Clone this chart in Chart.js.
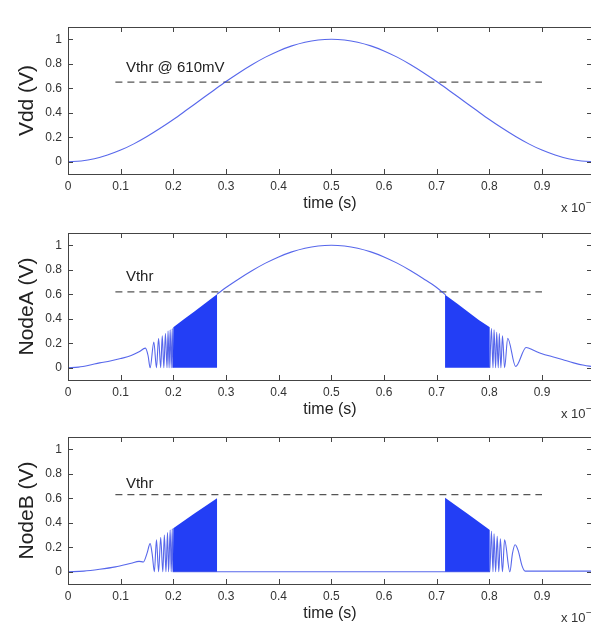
<!DOCTYPE html>
<html>
<head>
<meta charset="utf-8">
<script src="https://cdn.jsdelivr.net/npm/chart.js@4.4.1/dist/chart.umd.min.js"></script>
<style>
html,body{margin:0;padding:0;background:#fff;overflow:hidden;width:591px;height:626px;position:relative;}
canvas{position:absolute;left:0;}
</style>
</head>
<body>
<canvas id="c1" width="600" height="216" style="top:0px"></canvas>
<canvas id="c2" width="600" height="216" style="top:206px"></canvas>
<canvas id="c3" width="600" height="216" style="top:410px"></canvas>
<script>
// ---- tick labels / ranges ----
const xTicks = [0, 0.1, 0.2, 0.3, 0.4, 0.5, 0.6, 0.7, 0.8, 0.9];
const yTicks = [0, 0.2, 0.4, 0.6, 0.8, 1];
const yTitles = ['Vdd (V)', 'NodeA (V)', 'NodeB (V)'];
const thrLabels = ['Vthr @ 610mV', 'Vthr', 'Vthr'];

// ---- threshold lines ----
const vthrTime = [0.09, 0.90];
const vthrVdd = [0.65, 0.65];
const vthrA = [0.62, 0.62];
const vthrB = [0.63, 0.63];

// ---- Vdd ----
const vddTime = [0,0.025,0.05,0.075,0.1,0.125,0.15,0.175,0.2,0.225,0.25,0.275,0.3,0.325,0.35,0.375,0.4,0.425,0.45,0.475,0.5,
                 0.525,0.55,0.575,0.6,0.625,0.65,0.675,0.7,0.725,0.75,0.775,0.8,0.825,0.85,0.875,0.9,0.925,0.95,0.975,1.0];
const vdd = [0,0.006,0.024,0.055,0.095,0.146,0.206,0.273,0.345,0.422,0.5,0.578,0.655,0.727,0.794,0.854,0.905,0.946,0.976,0.994,1.0,
             0.994,0.976,0.946,0.905,0.854,0.794,0.727,0.655,0.578,0.5,0.422,0.345,0.273,0.206,0.146,0.095,0.055,0.024,0.006,0];

// ---- NodeA ----
const nodeATime = [0,0.02,0.04,0.06,0.08,0.10,0.12,0.135,0.147,0.152,0.156,0.163,0.168,0.172,0.176,0.179,0.182,0.185,0.188,0.190,0.192,0.194,0.196,0.198,0.199,
                   0.24,
                   0.283,0.30,0.325,0.35,0.375,0.40,0.425,0.45,0.475,0.5,0.525,0.55,0.575,0.6,0.625,0.65,0.675,0.7,0.717,
                   0.76,
                   0.801,0.804,0.807,0.809,0.812,0.814,0.817,0.819,0.822,0.825,0.829,0.835,0.850,0.870,0.885,0.90,0.92,0.94,0.96,0.98,0.995];
const nodeA = [0,0.005,0.02,0.04,0.055,0.075,0.10,0.13,0.16,0.10,0.0,0.21,0.0,0.24,0.0,0.26,0.0,0.28,0.0,0.30,0.0,0.31,0.0,0.32,0.0,
               null,
               0.60,0.655,0.727,0.794,0.854,0.905,0.946,0.976,0.994,1.0,0.994,0.976,0.946,0.905,0.854,0.794,0.727,0.655,0.595,
               null,
               0.0,0.32,0.0,0.31,0.0,0.29,0.0,0.28,0.0,0.26,0.0,0.24,0.01,0.165,0.14,0.115,0.09,0.065,0.04,0.02,0.01];
const nodeADenseTime = [0.199,0.200,0.22,0.24,0.26,0.283,0.283,0.716,0.716,0.74,0.76,0.78,0.801,0.801];
const nodeADense = [0,0.33,0.395,0.46,0.525,0.60,0,0,0.595,0.52,0.455,0.39,0.33,0];

// ---- NodeB ----
const nodeBTime = [0,0.03,0.06,0.09,0.12,0.135,0.143,0.15,0.156,0.160,0.164,0.168,0.172,0.176,0.180,0.183,0.186,0.189,0.191,0.194,0.196,0.198,0.199,
                   0.283,0.5,0.716,
                   0.801,0.804,0.807,0.809,0.812,0.815,0.818,0.821,0.825,0.829,0.839,0.844,0.849,0.855,0.862,0.868,0.90,0.95,0.995];
const nodeB = [0,0.005,0.02,0.04,0.07,0.085,0.08,0.15,0.23,0.14,0.0,0.26,0.0,0.28,0.0,0.30,0.0,0.32,0.0,0.34,0.0,0.35,0.0,
               0.0,0.0,0.0,
               0.0,0.33,0.0,0.31,0.0,0.29,0.0,0.27,0.0,0.26,0.0,0.15,0.22,0.17,0.05,0.005,0.005,0.005,0.005];
const nodeBDenseTime = [0.199,0.200,0.24,0.283,0.283,0.716,0.716,0.76,0.801,0.801];
const nodeBDense = [0,0.355,0.475,0.60,0,0,0.605,0.47,0.34,0];

// ---- styling ----
const FONT = '"Liberation Sans", Arial, Helvetica, sans-serif';
Chart.defaults.font.family = FONT;
const lineColor = 'rgba(45,65,230,0.8)';
const denseColor = 'rgb(35,62,245)';

function toXY(xs, ys) { return xs.map((x, i) => ({x: x, y: ys[i]})); }

const boxPlugin = {
  id: 'box',
  afterDraw(chart, args, opts) {
    const {ctx, chartArea: a, scales: {x, y}} = chart;
    ctx.save();
    ctx.strokeStyle = '#444';
    ctx.lineWidth = 1;
    ctx.strokeRect(a.left + 0.5, a.top + 0.5, a.right - a.left, a.bottom - a.top);
    ctx.beginPath();
    const L = 5;
    xTicks.forEach(v => {
      const px = Math.round(x.getPixelForValue(v)) + 0.5;
      ctx.moveTo(px, a.bottom); ctx.lineTo(px, a.bottom - L);
      ctx.moveTo(px, a.top); ctx.lineTo(px, a.top + L);
    });
    yTicks.forEach(v => {
      const py = Math.round(y.getPixelForValue(v)) + 0.5;
      ctx.moveTo(a.left, py); ctx.lineTo(a.left + L, py);
      ctx.moveTo(a.right, py); ctx.lineTo(a.right - L, py);
    });
    ctx.stroke();
    ctx.fillStyle = '#222';
    ctx.font = '15px ' + FONT;
    ctx.textBaseline = 'middle';
    ctx.textAlign = 'left';
    ctx.fillText(opts.label, x.getPixelForValue(opts.lx), y.getPixelForValue(opts.ly));
    ctx.fillStyle = '#333';
    ctx.font = '13px ' + FONT;
    ctx.fillText('x 10', 561, a.bottom + 34);
    ctx.font = '10px ' + FONT;
    ctx.fillText('\u2212', 586, a.bottom + 29);
    ctx.restore();
  }
};

function makeChart(id, idx, series, dense, vthr, labelY) {
  const ds = [{
    data: toXY(series[0], series[1]),
    borderColor: lineColor, borderWidth: 1.1, pointRadius: 0,
    cubicInterpolationMode: 'monotone', fill: false, spanGaps: false
  }];
  if (dense) {
    ds.push({
      data: toXY(dense[0], dense[1]),
      borderColor: denseColor, backgroundColor: denseColor, borderWidth: 0,
      pointRadius: 0, tension: 0, fill: 'origin'
    });
  }
  ds.push({
    data: toXY(vthrTime, vthr),
    borderColor: '#555', borderWidth: 1.2, borderDash: [7, 5],
    pointRadius: 0, fill: false
  });
  new Chart(document.getElementById(id), {
    type: 'line',
    data: {datasets: ds},
    options: {
      responsive: false, animation: false, devicePixelRatio: 1,
      layout: {padding: {left: 0, top: 27, right: 8, bottom: 3}},
      plugins: {
        legend: {display: false}, tooltip: {enabled: false},
        box: {label: thrLabels[idx], lx: 0.11, ly: labelY}
      },
      scales: {
        x: {
          type: 'linear', min: 0, max: 0.995,
          grid: {display: false, drawTicks: false}, border: {display: false},
          afterBuildTicks: s => { s.ticks = xTicks.map(v => ({value: v})); },
          ticks: {padding: 5, color: '#333', font: {size: 12}, maxRotation: 0, autoSkip: false, callback: v => String(v)},
          title: {display: true, text: 'time (s)', color: '#222', font: {size: 16}, padding: {top: 0, bottom: 0}},
          afterFit: s => { s.height = 39; }
        },
        y: {
          type: 'linear', min: -0.1, max: 1.1,
          grid: {display: false, drawTicks: false}, border: {display: false},
          afterBuildTicks: s => { s.ticks = yTicks.map(v => ({value: v})); },
          ticks: {padding: 6, color: '#333', font: {size: 12}, autoSkip: false, callback: v => String(v)},
          title: {display: true, text: yTitles[idx], color: '#222', font: {size: 21}, padding: {top: 15, bottom: 0}},
          afterFit: s => { s.width = 68; }
        }
      }
    },
    plugins: [boxPlugin]
  });
}

makeChart('c1', 0, [vddTime, vdd], null, vthrVdd, 0.77);
makeChart('c2', 1, [nodeATime, nodeA], [nodeADenseTime, nodeADense], vthrA, 0.74);
makeChart('c3', 2, [nodeBTime, nodeB], [nodeBDenseTime, nodeBDense], vthrB, 0.72);
</script>
</body>
</html>
